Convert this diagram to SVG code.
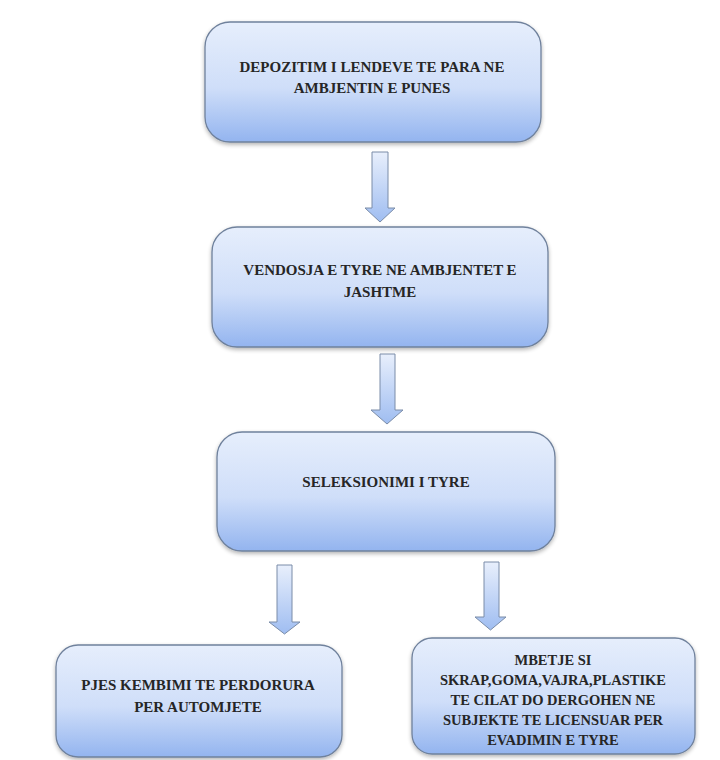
<svg xmlns="http://www.w3.org/2000/svg" width="720" height="760" viewBox="0 0 720 760">
  <defs>
    <linearGradient id="boxGrad" x1="0" y1="0" x2="0" y2="1">
      <stop offset="0" stop-color="#e6eefc"/>
      <stop offset="0.55" stop-color="#cfdef9"/>
      <stop offset="1" stop-color="#93b4ef"/>
    </linearGradient>
    <linearGradient id="arrowGrad" x1="0" y1="0" x2="0" y2="1">
      <stop offset="0" stop-color="#e8effc"/>
      <stop offset="1" stop-color="#9fbdf1"/>
    </linearGradient>
    <filter id="shadow" x="-10%" y="-10%" width="120%" height="130%">
      <feGaussianBlur in="SourceAlpha" stdDeviation="2"/>
      <feOffset dx="0" dy="2" result="b"/>
      <feComponentTransfer><feFuncA type="linear" slope="0.3"/></feComponentTransfer>
      <feMerge><feMergeNode/><feMergeNode in="SourceGraphic"/></feMerge>
    </filter>
  </defs>
  <style>
    .box { fill: url(#boxGrad); stroke: #6f819c; stroke-width: 1.3; filter: url(#shadow); }
    .arrow { fill: url(#arrowGrad); stroke: #7a8ca8; stroke-width: 1; }
    .t { font-family: "Liberation Serif", "Times New Roman", serif; font-weight: bold; font-size: 15px; fill: #262626; text-anchor: middle; }
    .s { font-size: 14.5px; }
  </style>
  <rect width="720" height="760" fill="#ffffff"/>

  <g id="connectors">
    <polygon class="arrow" points="372,152 388,152 388,208 395,208 380,222 365,208 372,208"/>
    <polygon class="arrow" points="380,354 395,354 395,410 403,410 387,424 371,410 380,410"/>
    <polygon class="arrow" points="277,565 292,565 292,622 300,622 284.5,634 269,622 277,622"/>
    <polygon class="arrow" points="484,562 499,562 499,617 506,617 490.5,630 475,617 484,617"/>
  </g>

  <g id="node1">
    <rect class="box" x="205" y="22" width="336" height="120" rx="25" ry="25"/>
    <text class="t" x="372" y="72">DEPOZITIM I LENDEVE TE PARA NE</text>
    <text class="t" x="372" y="93">AMBJENTIN E PUNES</text>
  </g>

  <g id="node2">
    <rect class="box" x="212" y="227" width="336" height="120" rx="25" ry="25"/>
    <text class="t" x="380" y="275">VENDOSJA E TYRE NE AMBJENTET E</text>
    <text class="t" x="380" y="297">JASHTME</text>
  </g>

  <g id="node3">
    <rect class="box" x="217" y="432" width="338" height="119" rx="25" ry="25"/>
    <text class="t" x="386" y="487">SELEKSIONIMI I TYRE</text>
  </g>

  <g id="node4">
    <rect class="box" x="56" y="645" width="286" height="112" rx="22" ry="22"/>
    <text class="t" x="198" y="690">PJES KEMBIMI TE PERDORURA</text>
    <text class="t" x="198" y="712">PER AUTOMJETE</text>
  </g>

  <g id="node5">
    <rect class="box" x="412" y="638" width="283" height="116" rx="20" ry="20"/>
    <text class="t s" x="553" y="665">MBETJE SI</text>
    <text class="t s" x="553" y="685">SKRAP,GOMA,VAJRA,PLASTIKE</text>
    <text class="t s" x="553" y="705">TE CILAT DO DERGOHEN NE</text>
    <text class="t s" x="553" y="725">SUBJEKTE TE LICENSUAR PER</text>
    <text class="t s" x="553" y="745">EVADIMIN E TYRE</text>
  </g>
</svg>
